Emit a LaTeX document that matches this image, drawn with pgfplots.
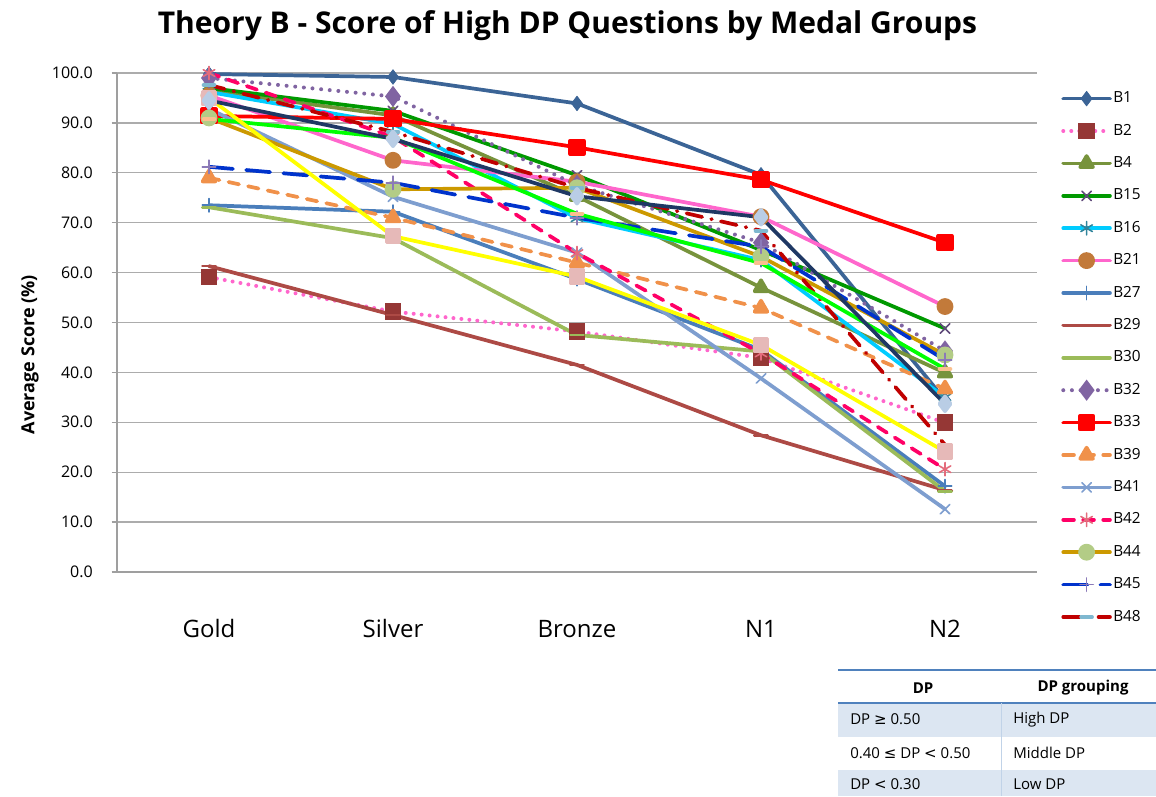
\documentclass[border=0pt]{standalone}
\usepackage{pgfplots}
\pgfplotsset{compat=1.18}
\usepackage{fontspec}
\setmainfont{Open Sans}
\newfontfamily\dejavu{DejaVu Sans}

\definecolor{cB1}{HTML}{3B6496}
\definecolor{cB2l}{HTML}{FF66CC}
\definecolor{cB2m}{HTML}{953735}
\definecolor{cB4}{HTML}{77933C}
\definecolor{cB15}{HTML}{009900}
\definecolor{cB15m}{HTML}{604A7B}
\definecolor{cB16}{HTML}{00CCFF}
\definecolor{cB16m}{HTML}{31859C}
\definecolor{cB21}{HTML}{FF66CC}
\definecolor{cB21m}{HTML}{C27A3A}
\definecolor{cB27}{HTML}{4A7EBB}
\definecolor{cB29}{HTML}{AD4A45}
\definecolor{cB30}{HTML}{9BBB59}
\definecolor{cB32}{HTML}{8064A2}
\definecolor{cB33}{HTML}{FF0000}
\definecolor{cB39}{HTML}{F0914A}
\definecolor{cB41}{HTML}{7E9ECF}
\definecolor{cB42}{HTML}{FF0066}
\definecolor{cB42m}{HTML}{E46C7C}
\definecolor{cB44}{HTML}{CC9900}
\definecolor{cB44m}{HTML}{B3CC86}
\definecolor{cB45}{HTML}{0033CC}
\definecolor{cB45m}{HTML}{8B7AB8}
\definecolor{cB48}{HTML}{C00000}
\definecolor{cB48m}{HTML}{7FB8D0}
\definecolor{cX1}{HTML}{1F3864}
\definecolor{cX1m}{HTML}{B9CDE5}
\definecolor{cX2}{HTML}{FFFF00}
\definecolor{cX2m}{HTML}{E6B9B8}
\definecolor{cX3}{HTML}{00FF00}
\definecolor{cX3m}{HTML}{FAC08F}
\definecolor{tblue}{HTML}{4F81BD}
\definecolor{tfill}{HTML}{DCE6F2}

\pgfplotsset{
  ser/.style={line width=2.8pt, line join=round, line cap=round},
}

\begin{document}
\begin{tikzpicture}
\path[use as bounding box] (0pt,0pt) rectangle (867pt,-597pt);

\node[font=\fontsize{22.5}{25}\selectfont\bfseries] at (425.6pt,-19.5pt) {Theory B - Score of High DP Questions by Medal Groups};
\node[rotate=90, font=\fontsize{13.5}{16}\selectfont\bfseries] at (22.5pt,-266pt) {Average Score (\%)};

\begin{axis}[
  at={(87.75pt,-429pt)}, anchor=south west,
  width=690pt, height=374.25pt, scale only axis,
  xmin=-0.5, xmax=4.5, ymin=0, ymax=100,
  clip=false,
  axis x line=bottom, axis y line=left,
  axis line style={-, draw=gray!75, line width=1pt},
  xtick={0,1,2,3,4},
  xticklabels={Gold,Silver,Bronze,N1,N2},
  x tick style={draw=none},
  xticklabel style={anchor=base, yshift=-45pt, font=\fontsize{18}{20}\selectfont},
  ytick={0,10,...,100},
  y tick style={draw=gray!75, line width=1pt},
  tick align=outside, major tick length=4pt,
  yticklabel style={anchor=east, inner sep=0pt, xshift=-14pt, font=\fontsize{12}{14}\selectfont},
  /pgf/number format/.cd, fixed, fixed zerofill, precision=1, assume math mode=true,
  /pgfplots/.cd,
  ymajorgrids, grid style={draw=gray!65, line width=1pt},
  legend style={at={(1,1)}, anchor=north west, xshift=18pt, yshift=-13pt,
    draw=none, fill=none, inner sep=0pt, row sep=12.3pt,
    font=\fontsize{11.5}{13}\selectfont,
    nodes={text height=8pt, text depth=2pt, inner sep=1pt}},
  legend cell align=left,
  legend image code/.code={\draw[mark repeat=2,mark phase=2] plot coordinates {(0pt,0pt)(17.5pt,0pt)(35pt,0pt)};},
]
% B1
\addplot[ser, color=cB1, mark=diamond*, mark size=5.5pt, mark options={solid, fill=cB1, line width=0.5pt}]
  coordinates {(0,99.8)(1,99.2)(2,93.9)(3,79.6)(4,34.5)};
\addlegendentry{B1}
% B2
\addplot[line width=3pt, color=cB2l, line cap=round, dash pattern=on 0pt off 6pt, mark=square*, mark size=4.8pt, mark options={solid, draw=cB2m, fill=cB2m}]
  coordinates {(0,59.1)(1,52.2)(2,48.2)(3,42.9)(4,29.9)};
\addlegendentry{B2}
% B4
\addplot[ser, color=cB4, mark=triangle*, mark size=5.5pt, mark options={solid, fill=cB4}]
  coordinates {(0,96.5)(1,91.5)(2,75.3)(3,57.0)(4,39.9)};
\addlegendentry{B4}
% B15
\addplot[ser, color=cB15, mark=x, mark size=5pt, mark options={solid, draw=cB15m, line width=1.2pt}]
  coordinates {(0,97.0)(1,92.4)(2,79.5)(3,64.5)(4,48.8)};
\addlegendentry{B15}
% B16
\addplot[ser, color=cB16, mark=asterisk, mark size=5pt, mark options={solid, draw=cB16m, line width=1.2pt}]
  coordinates {(0,96.2)(1,89.8)(2,70.9)(3,62.5)(4,35.0)};
\addlegendentry{B16}
% B21
\addplot[ser, color=cB21, mark=*, mark size=4.9pt, mark options={solid, draw=cB21m, fill=cB21m}]
  coordinates {(0,95.5)(1,82.5)(2,78.2)(3,71.2)(4,53.2)};
\addlegendentry{B21}
% B27
\addplot[ser, color=cB27, mark=+, mark size=5pt, mark options={solid, draw=cB27, line width=1.2pt}]
  coordinates {(0,73.5)(1,72.2)(2,58.7)(3,44.5)(4,17.2)};
\addlegendentry{B27}
% B29
\addplot[ser, color=cB29, mark=-, mark size=5pt, mark options={solid, draw=cB29, line width=2pt}]
  coordinates {(0,61.3)(1,51.5)(2,41.5)(3,27.4)(4,16.4)};
\addlegendentry{B29}
% B30
\addplot[ser, color=cB30, mark=-, mark size=5pt, mark options={solid, draw=cB30, line width=2pt}]
  coordinates {(0,73.1)(1,66.9)(2,47.5)(3,44.2)(4,16.2)};
\addlegendentry{B30}
% B32
\addplot[line width=3pt, color=cB32, line cap=round, dash pattern=on 0pt off 6.5pt, mark=diamond*, mark size=5.5pt, mark options={solid, fill=cB32}]
  coordinates {(0,99.0)(1,95.3)(2,77.5)(3,66.0)(4,44.3)};
\addlegendentry{B32}
% B33
\addplot[ser, color=cB33, mark=square*, mark size=5pt, mark options={solid, fill=cB33}]
  coordinates {(0,91.4)(1,90.8)(2,85.1)(3,78.6)(4,66.0)};
\addlegendentry{B33}
% B39
\addplot[ser, color=cB39, dash pattern=on 8pt off 7pt, mark=triangle*, mark size=5.5pt, mark options={solid, fill=cB39}]
  coordinates {(0,79.0)(1,71.0)(2,62.0)(3,52.9)(4,36.7)};
\addlegendentry{B39}
% B41
\addplot[ser, color=cB41, mark=x, mark size=5pt, mark options={solid, line width=1.2pt}]
  coordinates {(0,92.8)(1,75.2)(2,64.0)(3,38.8)(4,12.6)};
\addlegendentry{B41}
% B42
\addplot[ser, color=cB42, dash pattern=on 8pt off 7pt, mark=asterisk, mark size=5pt, mark options={solid, draw=cB42m, line width=1.2pt}]
  coordinates {(0,100.0)(1,87.2)(2,63.9)(3,43.8)(4,20.6)};
\addlegendentry{B42}
% B44
\addplot[ser, color=cB44, mark=*, mark size=4.9pt, mark options={solid, draw=cB44m, fill=cB44m}]
  coordinates {(0,91.0)(1,76.7)(2,77.0)(3,63.2)(4,43.5)};
\addlegendentry{B44}
% B45
\addplot[ser, color=cB45, dash pattern=on 18pt off 10pt, mark=+, mark size=5pt, mark options={solid, draw=cB45m, line width=1.2pt}]
  coordinates {(0,81.2)(1,78.0)(2,71.0)(3,65.2)(4,42.5)};
\addlegendentry{B45}
% B48
\addplot[ser, color=cB48, dash pattern=on 12pt off 7pt on 0.5pt off 7pt, mark=-, mark size=4pt, mark options={solid, draw=cB48m, line width=3pt}]
  coordinates {(0,97.6)(1,88.2)(2,77.0)(3,68.4)(4,25.5)};
\addlegendentry{B48}
% extra series (not in legend)
\addplot[ser, color=cX3, forget plot, mark=-, mark size=4pt, mark options={solid, draw=cX3m, line width=3pt}]
  coordinates {(0,90.8)(1,87.0)(2,71.8)(3,61.9)(4,40.7)};
\addplot[ser, color=cX2, forget plot, mark=square*, mark size=4.8pt, mark options={solid, draw=cX2m, fill=cX2m}]
  coordinates {(0,95.0)(1,67.3)(2,59.2)(3,45.5)(4,24.1)};
\addplot[ser, color=cX1, forget plot, mark=diamond*, mark size=5.5pt, mark options={solid, draw=cX1m, fill=cX1m}]
  coordinates {(0,94.5)(1,86.8)(2,75.3)(3,71.1)(4,33.7)};
\end{axis}

% DP table
\fill[tfill] (628.5pt,-527.25pt) rectangle (867pt,-552.75pt);
\fill[tfill] (628.5pt,-577.5pt) rectangle (867pt,-597pt);
\draw[tblue, line width=1.5pt] (628.5pt,-502.5pt) -- (867pt,-502.5pt);
\draw[tblue, line width=1.5pt] (628.5pt,-527pt) -- (867pt,-527pt);
\draw[tblue!35, line width=0.5pt] (751pt,-527.25pt) -- (751pt,-597pt);
\begin{scope}[every node/.style={font=\fontsize{11.25}{13}\selectfont, inner sep=0pt}]
\node[font=\fontsize{11.25}{13}\selectfont\bfseries] at (692.25pt,-516pt) {DP};
\node[font=\fontsize{11.25}{13}\selectfont\bfseries] at (812.25pt,-516pt) {DP grouping};
\node[anchor=west] at (637.5pt,-539.5pt) {DP {\dejavu ≥} 0.50};
\node[anchor=west] at (759.75pt,-539.5pt) {High DP};
\node[anchor=west] at (637.5pt,-564.5pt) {0.40 {\dejavu ≤} DP {\dejavu <} 0.50};
\node[anchor=west] at (759.75pt,-564.5pt) {Middle DP};
\node[anchor=west] at (637.5pt,-588pt) {DP {\dejavu <} 0.30};
\node[anchor=west] at (759.75pt,-588pt) {Low DP};
\end{scope}
\end{tikzpicture}
\end{document}
